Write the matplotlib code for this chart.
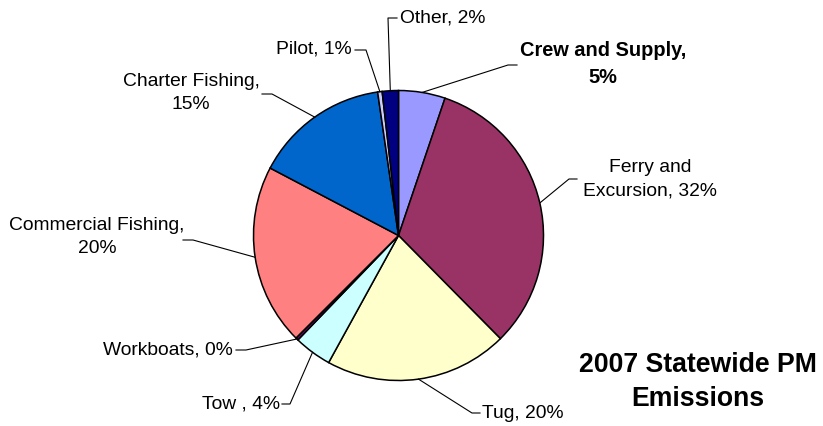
import numpy as np
import matplotlib.pyplot as plt

# 1. Data (share of 2007 statewide PM emissions, %)
categories = ["Crew and Supply", "Ferry and Excursion", "Tug", "Tow", "Workboats",
              "Commercial Fishing", "Charter Fishing", "Pilot", "Other"]
shares = [5.2, 32.4, 20.4, 4.2, 0.3, 20.2, 15.0, 0.5, 1.8]
labels = ["Crew and Supply,\n5%", "Ferry and\nExcursion, 32%", "Tug, 20%", "Tow , 4%",
          "Workboats, 0%", "Commercial Fishing,\n20%", "Charter Fishing,\n15%",
          "Pilot, 1%", "Other, 2%"]
colors = ["#9999FF", "#993366", "#FFFFCC", "#CCFFFF", "#660066",
          "#FF8080", "#0066CC", "#CCCCFF", "#000080"]

# 2. Layout, in pixels from the top-left corner
W, H = 823, 426
CX, CY, R = 398.5, 235.5, 145

def py(y):
    return H - y

# text position, alignment, leader elbow, leader end
label_layout = {
    "Crew and Supply":     ((603, 64), "center", (508, 65), (517, 65)),
    "Ferry and Excursion": ((650, 179), "center", (569, 179), (577, 179)),
    "Tug":                 ((482, 413), "left", (472, 413), (480, 413)),
    "Tow":                 ((280, 404), "right", (290, 404), (282, 404)),
    "Workboats":           ((233, 350), "right", (246, 350), (236, 350)),
    "Commercial Fishing":  ((97, 237), "center", (193, 240), (183, 240)),
    "Charter Fishing":     ((191, 93), "center", (272, 94), (262, 94)),
    "Pilot":               ((352, 49), "right", (366, 50), (355, 50)),
    "Other":               ((400, 18), "left", (388, 18), (397, 18)),
}

plt.rcParams["font.family"] = ["Liberation Sans", "DejaVu Sans"]

fig = plt.figure(figsize=(W / 100, H / 100), dpi=100)
ax = fig.add_axes([0, 0, 1, 1])

wedges, _ = ax.pie(shares, colors=colors, startangle=90, counterclock=False,
                   center=(CX, py(CY)), radius=R,
                   wedgeprops=dict(edgecolor="black", linewidth=1.1))
ax.set_xlim(0, W)
ax.set_ylim(0, H)
ax.set_aspect("equal")
ax.axis("off")

# 3. Labels with leader lines
for name, label, w in zip(categories, labels, wedges):
    (tx, ty), ha, elbow, end = label_layout[name]
    theta = np.deg2rad((w.theta1 + w.theta2) / 2)
    ax_x = CX + R * np.cos(theta)
    ax_y = py(CY) + R * np.sin(theta)
    ax.plot([ax_x, elbow[0], end[0]], [ax_y, py(elbow[1]), py(end[1])],
            color="black", linewidth=0.8)
    bold = name == "Crew and Supply"
    ax.text(tx, py(ty), label, ha=ha, va="center", multialignment="center",
            fontsize=14.4 if bold else 13.9, fontweight="bold" if bold else "normal",
            linespacing=1.5, color="black")

ax.text(698, py(382), "2007 Statewide PM\nEmissions", ha="center", va="center",
        fontsize=19.2, fontweight="bold", linespacing=1.35)

fig.savefig("out.png", dpi=100)
